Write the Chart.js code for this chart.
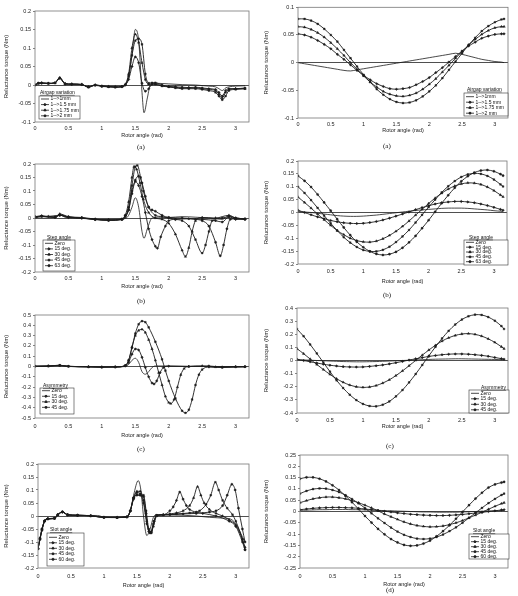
<!DOCTYPE html>
<html><head><meta charset="utf-8">
<script src="https://cdn.jsdelivr.net/npm/chart.js@4.4.1/dist/chart.umd.min.js"></script>
<style>
html,body{margin:0;padding:0;background:#fff;width:518px;height:596px;overflow:hidden;position:relative;}
canvas{position:absolute;}
.cap{position:absolute;font-family:"Liberation Serif","DejaVu Serif",serif;font-size:7px;color:#111;line-height:8px;will-change:transform;}
</style></head><body>
<canvas id="cL1"></canvas><canvas id="cR1"></canvas>
<canvas id="cL2"></canvas><canvas id="cR2"></canvas>
<canvas id="cL3"></canvas><canvas id="cR3"></canvas>
<canvas id="cL4"></canvas><canvas id="cR4"></canvas>
<div class="cap" style="left:137px;top:143px">(a)</div>
<div class="cap" style="left:383px;top:142px">(a)</div>
<div class="cap" style="left:137px;top:297px">(b)</div>
<div class="cap" style="left:383px;top:291px">(b)</div>
<div class="cap" style="left:137px;top:445px">(c)</div>
<div class="cap" style="left:386px;top:442px">(c)</div>
<div class="cap" style="left:386px;top:586px">(d)</div>
<script>
// ---------- shared text / ticks ----------
const X_TITLE = 'Rotor angle (rad)';
const Y_TITLE = 'Reluctance torque (Nm)';
const X_TICKS = [0,0.5,1,1.5,2,2.5,3];
const LBL_AIR = ['1-->1mm','1-->1.5 mm','1-->1.75 mm','1-->2 mm'];
const LBL_STEP = ['Zero','15 deg.','30 deg.','45 deg.','63 deg.'];
const LBL_ASYM = ['Zero','15 deg.','30 deg.','45 deg.'];
const LBL_SLOT = ['Zero','15 deg.','30 deg.','45 deg.','60 deg.'];
const YT_01 = [-0.1,-0.05,0,0.05,0.1];
const YT_L1 = [-0.1,-0.05,0,0.05,0.1,0.15,0.2];
const YT_02 = [-0.2,-0.15,-0.1,-0.05,0,0.05,0.1,0.15,0.2];
const YT_05 = [-0.5,-0.4,-0.3,-0.2,-0.1,0,0.1,0.2,0.3,0.4,0.5];
const YT_04 = [-0.4,-0.3,-0.2,-0.1,0,0.1,0.2,0.3,0.4];
const YT_025 = [-0.25,-0.2,-0.15,-0.1,-0.05,0,0.05,0.1,0.15,0.2,0.25];

// ---------- right-hand charts: common angle grid ----------
const RX = [0,0.1,0.2,0.3,0.4,0.5,0.6,0.7,0.8,0.9,1,1.1,1.2,1.3,1.4,1.5,1.6,1.7,1.8,1.9,2,2.1,2.2,2.3,2.4,2.5,2.6,2.7,2.8,2.9,3,3.1,3.14];

const R1_1MM = [0,-0.002,-0.004,-0.006,-0.008,-0.010,-0.012,-0.014,-0.015,-0.013,-0.011,-0.009,-0.007,-0.005,-0.003,-0.001,0.001,0.003,0.005,0.007,0.009,0.011,0.013,0.015,0.017,0.015,0.012,0.009,0.006,0.004,0.002,0.001,0];
const R1_15MM = [0.052,0.050,0.046,0.040,0.033,0.025,0.015,0.006,-0.004,-0.014,-0.023,-0.031,-0.038,-0.043,-0.047,-0.048,-0.047,-0.045,-0.040,-0.034,-0.027,-0.018,-0.009,0.001,0.011,0.021,0.030,0.037,0.044,0.048,0.051,0.052,0.052];
const R1_175MM = [0.065,0.064,0.060,0.054,0.046,0.036,0.025,0.013,0.000,-0.012,-0.024,-0.035,-0.044,-0.052,-0.057,-0.060,-0.061,-0.059,-0.055,-0.048,-0.039,-0.029,-0.017,-0.005,0.008,0.020,0.032,0.042,0.051,0.058,0.063,0.065,0.065];
const R1_2MM = [0.079,0.079,0.076,0.070,0.061,0.050,0.038,0.023,0.008,-0.007,-0.022,-0.035,-0.048,-0.058,-0.066,-0.071,-0.073,-0.072,-0.068,-0.061,-0.052,-0.041,-0.028,-0.013,0.002,0.017,0.032,0.045,0.057,0.066,0.073,0.078,0.079];

const R2_ZERO = [0.004,0.002,0,-0.003,-0.006,-0.009,-0.012,-0.014,-0.015,-0.015,-0.014,-0.012,-0.010,-0.007,-0.004,-0.001,0.002,0.005,0.008,0.010,0.012,0.014,0.016,0.017,0.017,0.017,0.016,0.014,0.012,0.010,0.007,0.005,0.004];
const R2_15 = [0.009,0,-0.009,-0.017,-0.024,-0.031,-0.036,-0.040,-0.042,-0.043,-0.042,-0.039,-0.035,-0.029,-0.022,-0.014,-0.006,0.002,0.011,0.019,0.026,0.033,0.038,0.041,0.043,0.043,0.041,0.038,0.033,0.027,0.020,0.012,0.009];
const R2_30 = [0.060,0.039,0.017,-0.006,-0.028,-0.050,-0.070,-0.086,-0.100,-0.109,-0.114,-0.115,-0.111,-0.102,-0.089,-0.073,-0.054,-0.033,-0.010,0.012,0.035,0.056,0.075,0.091,0.103,0.111,0.115,0.114,0.109,0.099,0.085,0.068,0.061];
const R2_45 = [0.100,0.076,0.048,0.018,-0.012,-0.042,-0.070,-0.096,-0.117,-0.134,-0.146,-0.151,-0.151,-0.145,-0.133,-0.115,-0.093,-0.068,-0.039,-0.009,0.021,0.050,0.078,0.102,0.122,0.138,0.148,0.152,0.150,0.142,0.128,0.109,0.101];
const R2_63 = [0.142,0.123,0.099,0.070,0.039,0.007,-0.026,-0.058,-0.088,-0.114,-0.135,-0.151,-0.161,-0.165,-0.162,-0.153,-0.137,-0.116,-0.091,-0.061,-0.030,0.003,0.036,0.067,0.096,0.121,0.141,0.155,0.163,0.165,0.160,0.149,0.143];

const R3_ZERO = [0.005,0.004,0.002,0,-0.002,-0.004,-0.006,-0.008,-0.009,-0.010,-0.010,-0.009,-0.008,-0.006,-0.004,-0.002,0,0.002,0.004,0.006,0.008,0.010,0.011,0.012,0.013,0.013,0.012,0.011,0.010,0.009,0.008,0.006,0.005];
const R3_15 = [0.010,0,-0.010,-0.019,-0.028,-0.036,-0.042,-0.047,-0.049,-0.050,-0.049,-0.045,-0.040,-0.034,-0.026,-0.017,-0.007,0.003,0.013,0.022,0.031,0.038,0.044,0.048,0.050,0.050,0.048,0.044,0.039,0.032,0.023,0.014,0.010];
const R3_30 = [0.090,0.052,0.011,-0.030,-0.069,-0.106,-0.139,-0.166,-0.187,-0.200,-0.205,-0.202,-0.191,-0.172,-0.147,-0.115,-0.079,-0.040,0.001,0.041,0.080,0.116,0.148,0.173,0.191,0.202,0.205,0.199,0.186,0.165,0.138,0.105,0.090];
const R3_45 = [0.240,0.185,0.122,0.054,-0.015,-0.085,-0.151,-0.210,-0.261,-0.302,-0.331,-0.347,-0.349,-0.337,-0.312,-0.273,-0.225,-0.167,-0.103,-0.034,0.036,0.104,0.168,0.226,0.274,0.312,0.337,0.349,0.347,0.331,0.303,0.262,0.240];

const R4_ZERO = [0.005,0.006,0.007,0.008,0.008,0.009,0.009,0.009,0.008,0.008,0.007,0.006,0.005,0.004,0.003,0.002,0.001,0,-0.001,-0.002,-0.002,-0.003,-0.003,-0.003,-0.003,-0.002,-0.001,0,0.001,0.002,0.003,0.004,0.005];
const R4_15 = [0.008,0.011,0.014,0.016,0.017,0.018,0.018,0.017,0.016,0.014,0.011,0.008,0.005,0.001,-0.002,-0.006,-0.009,-0.012,-0.014,-0.016,-0.017,-0.018,-0.018,-0.017,-0.015,-0.013,-0.010,-0.007,-0.004,0.000,0.003,0.007,0.008];
const R4_30 = [0.039,0.048,0.056,0.061,0.064,0.064,0.061,0.056,0.048,0.039,0.028,0.016,0.003,-0.011,-0.023,-0.035,-0.046,-0.055,-0.062,-0.066,-0.068,-0.067,-0.064,-0.058,-0.050,-0.040,-0.028,-0.016,-0.003,0.010,0.023,0.035,0.039];
const R4_45 = [0.079,0.091,0.099,0.102,0.101,0.095,0.086,0.072,0.055,0.036,0.015,-0.008,-0.030,-0.051,-0.071,-0.089,-0.103,-0.113,-0.120,-0.122,-0.120,-0.113,-0.102,-0.087,-0.070,-0.050,-0.028,-0.006,0.016,0.037,0.056,0.073,0.079];
const R4_60 = [0.145,0.151,0.151,0.145,0.133,0.116,0.095,0.069,0.041,0.011,-0.020,-0.049,-0.077,-0.101,-0.122,-0.137,-0.148,-0.152,-0.150,-0.142,-0.129,-0.110,-0.087,-0.061,-0.032,-0.002,0.028,0.057,0.083,0.106,0.120,0.128,0.131];

// ---------- left-hand charts: [angle, torque] pairs ----------
const L1_1MM = [[0,0],[0.05,0.005],[0.1,0.005],[0.2,0.004],[0.3,0.006],[0.37,0.02],[0.45,0.003],[0.55,0.002],[0.7,0.001],[0.8,-0.005],[0.9,0],[1.0,-0.002],[1.1,-0.004],[1.2,-0.005],[1.3,-0.004],[1.35,0],[1.4,0.02],[1.45,0.08],[1.5,0.15],[1.55,0.12],[1.6,-0.02],[1.63,-0.075],[1.68,-0.035],[1.73,0.003],[1.8,0.005],[1.9,0.004],[2.0,0.003],[2.2,0.001],[2.4,0],[2.6,-0.003],[2.7,-0.005],[2.75,-0.01],[2.8,-0.015],[2.85,-0.008],[2.9,-0.005],[3.0,-0.003],[3.14,-0.002]];
const L1_15MM = [[0,0],[0.05,0.005],[0.1,0.005],[0.2,0.004],[0.3,0.006],[0.37,0.018],[0.45,0.003],[0.55,0.002],[0.7,0.001],[0.8,-0.005],[0.9,0],[1.0,-0.003],[1.1,-0.004],[1.2,-0.005],[1.3,-0.004],[1.35,0],[1.4,0.015],[1.45,0.05],[1.5,0.076],[1.55,0.06],[1.6,0.005],[1.65,-0.017],[1.7,-0.01],[1.75,0.002],[1.8,0.003],[1.9,-0.002],[2.0,-0.004],[2.1,-0.005],[2.2,-0.006],[2.3,-0.007],[2.4,-0.006],[2.5,-0.008],[2.6,-0.01],[2.7,-0.012],[2.75,-0.02],[2.8,-0.03],[2.85,-0.015],[2.9,-0.01],[3.0,-0.01],[3.14,-0.008]];
const L1_175MM = [[0,0],[0.05,0.004],[0.1,0.006],[0.2,0.004],[0.3,0.005],[0.37,0.02],[0.45,0.004],[0.55,0.003],[0.7,0.002],[0.8,-0.006],[0.9,0],[1.0,-0.003],[1.1,-0.005],[1.2,-0.006],[1.3,-0.004],[1.35,0.002],[1.4,0.03],[1.45,0.1],[1.5,0.137],[1.55,0.115],[1.6,0.06],[1.65,0.015],[1.7,0.002],[1.75,0.003],[1.8,0.002],[1.9,-0.003],[2.0,-0.005],[2.1,-0.006],[2.2,-0.008],[2.3,-0.008],[2.4,-0.008],[2.5,-0.01],[2.6,-0.012],[2.7,-0.015],[2.75,-0.025],[2.8,-0.035],[2.85,-0.02],[2.9,-0.012],[3.0,-0.01],[3.14,-0.01]];
const L1_2MM = [[0,0],[0.05,0.005],[0.1,0.005],[0.2,0.005],[0.3,0.006],[0.37,0.019],[0.45,0.003],[0.55,0.002],[0.7,0.001],[0.8,-0.006],[0.9,-0.001],[1.0,-0.004],[1.1,-0.005],[1.2,-0.006],[1.3,-0.005],[1.35,0],[1.4,0.025],[1.45,0.08],[1.5,0.12],[1.55,0.125],[1.6,0.11],[1.65,0.03],[1.7,0.005],[1.75,0.006],[1.8,0.006],[1.9,0],[2.0,-0.005],[2.1,-0.008],[2.2,-0.01],[2.3,-0.01],[2.4,-0.01],[2.5,-0.012],[2.6,-0.015],[2.7,-0.02],[2.75,-0.03],[2.8,-0.04],[2.85,-0.03],[2.9,-0.015],[3.0,-0.012],[3.14,-0.01]];

const L2_ZERO = [[0,0],[0.1,0.005],[0.2,0.003],[0.3,0.002],[0.37,0.012],[0.45,0.003],[0.6,0],[0.8,-0.003],[1.0,-0.006],[1.2,-0.005],[1.35,-0.002],[1.4,0.01],[1.45,0.04],[1.5,0.075],[1.55,0.04],[1.6,-0.05],[1.63,-0.075],[1.68,-0.04],[1.75,0],[1.85,0.003],[2.0,0.002],[2.2,0.005],[2.4,0.003],[2.6,0],[2.8,-0.005],[2.9,0.008],[3.0,0],[3.14,-0.003]];
const L2_15 = [[0,0.005],[0.1,0.008],[0.2,0.006],[0.37,0.01],[0.5,0.002],[0.7,0],[0.9,-0.005],[1.1,-0.008],[1.3,-0.005],[1.4,0.03],[1.45,0.1],[1.5,0.135],[1.55,0.12],[1.6,0.08],[1.65,0.02],[1.7,-0.04],[1.75,-0.08],[1.8,-0.105],[1.83,-0.112],[1.88,-0.07],[1.95,-0.03],[2.0,-0.01],[2.1,-0.005],[2.3,-0.003],[2.5,-0.005],[2.7,-0.01],[2.8,-0.015],[2.9,0.005],[3.0,-0.005],[3.14,-0.005]];
const L2_30 = [[0,0.003],[0.1,0.006],[0.3,0.004],[0.37,0.015],[0.5,0.005],[0.7,0.002],[0.9,-0.004],[1.1,-0.008],[1.3,-0.004],[1.35,0.01],[1.4,0.06],[1.45,0.15],[1.48,0.19],[1.52,0.18],[1.57,0.13],[1.62,0.07],[1.7,0.02],[1.8,0],[1.9,-0.005],[2.0,-0.02],[2.1,-0.06],[2.2,-0.12],[2.25,-0.143],[2.3,-0.11],[2.35,-0.05],[2.4,-0.01],[2.5,0.002],[2.7,0],[2.9,0.01],[3.0,0],[3.14,-0.003]];
const L2_45 = [[0,0.002],[0.1,0.006],[0.3,0.003],[0.37,0.012],[0.5,0.004],[0.7,0],[0.9,-0.006],[1.1,-0.009],[1.3,-0.006],[1.35,0.005],[1.4,0.04],[1.45,0.12],[1.5,0.19],[1.53,0.195],[1.58,0.15],[1.62,0.1],[1.7,0.04],[1.8,0.01],[1.9,0.005],[2.0,0],[2.1,-0.005],[2.2,-0.01],[2.3,-0.03],[2.4,-0.08],[2.5,-0.13],[2.55,-0.1],[2.6,-0.05],[2.65,-0.01],[2.8,0],[2.9,0.005],[3.0,0],[3.14,-0.003]];
const L2_63 = [[0,0.004],[0.1,0.007],[0.3,0.002],[0.37,0.01],[0.5,0.003],[0.7,0],[0.9,-0.005],[1.1,-0.007],[1.3,-0.004],[1.35,0.01],[1.4,0.03],[1.45,0.09],[1.5,0.14],[1.55,0.155],[1.6,0.13],[1.65,0.08],[1.7,0.04],[1.75,0.03],[1.8,0.025],[1.9,0.01],[2.0,0.002],[2.2,0],[2.4,-0.005],[2.5,-0.01],[2.6,-0.03],[2.7,-0.09],[2.77,-0.14],[2.82,-0.1],[2.87,-0.04],[2.92,-0.005],[3.0,-0.003],[3.14,-0.005]];

const L3_ZERO = [[0,0],[0.2,0.003],[0.37,0.01],[0.5,0],[0.8,-0.003],[1.0,-0.005],[1.2,-0.004],[1.35,0],[1.4,0.02],[1.45,0.06],[1.5,0.08],[1.55,0.04],[1.6,-0.05],[1.65,-0.075],[1.7,-0.05],[1.75,-0.01],[1.8,0.005],[2.0,0.005],[2.3,0.002],[2.6,0],[2.8,-0.005],[3.14,-0.003]];
const L3_15 = [[0,0.003],[0.2,0.005],[0.37,0.012],[0.5,0.002],[0.8,-0.002],[1.0,-0.006],[1.2,-0.004],[1.35,0.005],[1.4,0.04],[1.45,0.12],[1.5,0.17],[1.55,0.16],[1.6,0.09],[1.65,-0.01],[1.7,-0.1],[1.75,-0.16],[1.78,-0.17],[1.82,-0.14],[1.87,-0.06],[1.92,-0.01],[2.0,0.003],[2.3,0],[2.6,0.005],[2.8,-0.005],[3.14,-0.002]];
const L3_30 = [[0,0.002],[0.2,0.004],[0.37,0.01],[0.5,0.001],[0.8,-0.004],[1.0,-0.007],[1.2,-0.005],[1.35,0.01],[1.4,0.06],[1.45,0.19],[1.5,0.3],[1.55,0.35],[1.6,0.36],[1.65,0.33],[1.7,0.26],[1.75,0.17],[1.8,0.06],[1.85,-0.06],[1.9,-0.18],[1.95,-0.29],[2.0,-0.35],[2.03,-0.36],[2.08,-0.32],[2.13,-0.2],[2.18,-0.08],[2.23,-0.02],[2.3,0],[2.5,0.005],[2.7,-0.005],[3.0,0],[3.14,0]];
const L3_45 = [[0,0.003],[0.2,0.005],[0.37,0.012],[0.5,0.002],[0.8,-0.003],[1.0,-0.006],[1.2,-0.005],[1.35,0.01],[1.4,0.06],[1.45,0.18],[1.5,0.32],[1.55,0.41],[1.6,0.44],[1.65,0.43],[1.7,0.38],[1.8,0.24],[1.9,0.07],[1.95,-0.04],[2.0,-0.14],[2.1,-0.31],[2.2,-0.43],[2.25,-0.45],[2.3,-0.42],[2.35,-0.32],[2.4,-0.18],[2.45,-0.08],[2.5,-0.03],[2.6,-0.005],[2.8,-0.01],[3.0,-0.005],[3.14,-0.003]];

const L4_ZERO = [[0,-0.125],[0.03,-0.09],[0.06,-0.055],[0.1,-0.02],[0.15,-0.012],[0.2,-0.01],[0.25,-0.01],[0.3,0.005],[0.37,0.016],[0.45,0.005],[0.55,0.003],[0.7,0.002],[0.9,0.002],[1.0,-0.004],[1.2,-0.005],[1.35,-0.003],[1.4,0.02],[1.45,0.08],[1.52,0.136],[1.56,0.1],[1.6,0],[1.65,-0.075],[1.7,-0.05],[1.75,-0.005],[1.8,0.005],[2.0,0.004],[2.2,0.003],[2.4,0],[2.6,-0.005],[2.8,-0.008],[2.9,-0.01],[3.0,-0.03],[3.1,-0.08],[3.14,-0.1]];
const L4_15 = [[0,-0.125],[0.03,-0.085],[0.06,-0.05],[0.1,-0.018],[0.15,-0.01],[0.25,-0.008],[0.3,0.004],[0.37,0.015],[0.45,0.004],[0.6,0.003],[0.8,0.001],[1.0,-0.005],[1.2,-0.006],[1.35,-0.004],[1.4,0.02],[1.45,0.07],[1.5,0.08],[1.55,0.08],[1.6,0.075],[1.64,0.01],[1.68,-0.06],[1.72,-0.065],[1.76,-0.02],[1.8,0.003],[1.9,0.005],[2.0,0.02],[2.05,0.035],[2.1,0.06],[2.15,0.092],[2.2,0.065],[2.25,0.04],[2.3,0.025],[2.4,0.015],[2.5,0.01],[2.7,0],[2.9,-0.02],[3.0,-0.04],[3.1,-0.1],[3.14,-0.13]];
const L4_30 = [[0,-0.125],[0.03,-0.088],[0.06,-0.052],[0.1,-0.02],[0.15,-0.01],[0.25,-0.009],[0.3,0.005],[0.37,0.016],[0.45,0.005],[0.6,0.003],[0.8,0],[1.0,-0.005],[1.2,-0.006],[1.35,-0.003],[1.4,0.02],[1.45,0.07],[1.5,0.095],[1.55,0.095],[1.6,0.06],[1.65,-0.02],[1.7,-0.065],[1.75,-0.04],[1.8,0],[1.9,0.005],[2.0,0.008],[2.1,0.012],[2.2,0.02],[2.3,0.04],[2.36,0.07],[2.42,0.113],[2.47,0.08],[2.52,0.05],[2.6,0.025],[2.7,0.01],[2.8,0],[2.9,-0.015],[3.0,-0.035],[3.1,-0.09],[3.14,-0.12]];
const L4_45 = [[0,-0.127],[0.03,-0.09],[0.06,-0.055],[0.1,-0.02],[0.15,-0.012],[0.25,-0.01],[0.3,0.004],[0.37,0.015],[0.45,0.004],[0.6,0.002],[0.8,0.001],[1.0,-0.006],[1.2,-0.006],[1.35,-0.004],[1.4,0.02],[1.45,0.065],[1.5,0.082],[1.55,0.08],[1.6,0.08],[1.64,0.02],[1.68,-0.05],[1.72,-0.06],[1.76,-0.02],[1.8,0.002],[1.9,0.004],[2.1,0.008],[2.3,0.012],[2.45,0.02],[2.55,0.045],[2.62,0.08],[2.69,0.13],[2.74,0.1],[2.8,0.06],[2.87,0.03],[2.95,0.005],[3.0,-0.02],[3.1,-0.09],[3.14,-0.13]];
const L4_60 = [[0,-0.125],[0.03,-0.087],[0.06,-0.05],[0.1,-0.019],[0.15,-0.011],[0.25,-0.009],[0.3,0.005],[0.37,0.016],[0.45,0.005],[0.6,0.003],[0.8,0.001],[1.0,-0.005],[1.2,-0.005],[1.35,-0.003],[1.4,0.02],[1.45,0.07],[1.5,0.09],[1.55,0.085],[1.6,0.05],[1.65,-0.03],[1.7,-0.065],[1.75,-0.03],[1.8,0.002],[2.0,0.005],[2.2,0.008],[2.4,0.01],[2.6,0.015],[2.7,0.02],[2.8,0.04],[2.87,0.08],[2.94,0.122],[2.99,0.1],[3.04,0.03],[3.1,-0.05],[3.14,-0.1]];

// ---------- rendering ----------
const FONT = "'Liberation Sans', Arial, sans-serif";
const INK = '#1c1c1c';
const MARKS = [
  {style:false, r:0},
  {style:'rectRot', r:1.3},
  {style:'triangle', r:1.4},
  {style:'rect', r:1.2},
  {style:'circle', r:1.1}
];
const grid2pts = (ys) => ys.map((y,i)=>({x:RX[i], y}));
const pair2pts = (a) => a.map(p=>({x:p[0], y:p[1]}));

const frame = {
  id:'frame',
  afterDatasetsDraw(chart){
    const a = chart.chartArea, c = chart.ctx;
    c.save(); c.strokeStyle='#777'; c.lineWidth=0.8;
    c.strokeRect(a.left, a.top, a.right-a.left, a.bottom-a.top);
    c.restore();
  }
};
const boxLegend = {
  id:'boxLegend',
  afterDraw(chart, args, o){
    const L = o.legend, b = o.box, ctx = chart.ctx;
    if (!L) return;
    const x = L.x - b.x, y = L.y - b.y;
    ctx.save();
    ctx.fillStyle='#fff'; ctx.fillRect(x, y, L.w, L.h);
    ctx.strokeStyle='#333'; ctx.lineWidth=0.6; ctx.strokeRect(x, y, L.w, L.h);
    ctx.font = '5px ' + FONT; ctx.fillStyle='#111'; ctx.textBaseline='middle'; ctx.textAlign='left';
    const tx = L.tx - b.x, ty = L.ty - b.y;
    ctx.fillText(L.title, tx, ty);
    const tw = ctx.measureText(L.title).width;
    ctx.beginPath(); ctx.moveTo(tx, ty+2.6); ctx.lineTo(tx+tw, ty+2.6); ctx.lineWidth=0.5; ctx.strokeStyle='#111'; ctx.stroke();
    chart.data.datasets.forEach((ds,i)=>{
      const ry = y + L.r0 + i*L.rh;
      ctx.beginPath(); ctx.moveTo(x+2, ry); ctx.lineTo(x+10, ry);
      ctx.strokeStyle=INK; ctx.lineWidth=0.8; ctx.stroke();
      if (ds.pointStyle) {
        ctx.fillStyle=INK;
        Chart.helpers.drawPoint(ctx, {pointStyle: ds.pointStyle, radius: ds.pointRadius, borderWidth: 0.4, rotation:0}, x+6, ry);
      }
      ctx.fillStyle='#111';
      ctx.fillText(ds.label, x+11.5, ry);
    });
    ctx.restore();
  }
};

function makeChart(c){
  const cv = document.getElementById(c.id);
  const b = c.box, p = c.plot;
  cv.width = b.w; cv.height = b.h;
  cv.style.left = b.x+'px'; cv.style.top = b.y+'px';
  cv.style.width = b.w+'px'; cv.style.height = b.h+'px';
  const Wy = p.L - b.x, Hx = b.y + b.h - p.B;
  const datasets = c.series.map((s,i)=>({
    label: c.labels[i], data: s,
    borderColor: INK, backgroundColor: INK, borderWidth: i===0 ? 0.8 : 0.9,
    pointStyle: MARKS[i].style, pointRadius: MARKS[i].r, pointHoverRadius: 0,
    pointBackgroundColor: INK, pointBorderColor: INK, pointBorderWidth: 0.4,
    tension: c.tension, cubicInterpolationMode: c.mono ? 'monotone' : 'default', fill:false
  }));
  new Chart(cv, {
    type:'line',
    data:{datasets},
    options:{
      responsive:false, animation:false, devicePixelRatio:1, events:[],
      layout:{padding:{left:0, top:p.T-b.y, right:b.x+b.w-p.R, bottom:0}},
      plugins:{legend:{display:false}, tooltip:{enabled:false}, boxLegend:{legend:c.legend, box:b}},
      scales:{
        x:{type:'linear', min:0, max:3.2,
          afterBuildTicks:s=>{ s.ticks = X_TICKS.map(v=>({value:v})); },
          afterFit:s=>{ s.height = Hx; },
          grid:{display:false, drawTicks:false, tickLength:0}, border:{display:false},
          ticks:{font:{family:FONT,size:5.5}, color:'#222', padding:c.xpad, maxRotation:0, autoSkip:false, callback:v=>String(v)},
          title:{display:true, text:X_TITLE, font:{family:FONT,size:5.5}, color:'#222', padding:0}
        },
        y:{type:'linear', min:c.yMin, max:c.yMax,
          afterBuildTicks:s=>{ s.ticks = c.yTicks.map(v=>({value:v})); },
          afterFit:s=>{ s.width = Wy; },
          grid:{color:ctx=>(ctx.tick && Math.abs(ctx.tick.value)<1e-9) ? '#222' : 'rgba(0,0,0,0)', lineWidth:0.8, drawTicks:true, tickLength:2, tickColor:'#666'},
          border:{display:false},
          ticks:{font:{family:FONT,size:5.5}, color:'#222', padding:2, autoSkip:false, callback:v=>String(+(+v).toFixed(2))},
          title:{display:true, text:Y_TITLE, font:{family:FONT,size:6}, color:'#222', padding:0}
        }
      }
    },
    plugins:[frame, boxLegend]
  });
}

makeChart({id:'cL1', box:{x:3,y:5,w:250,h:134}, plot:{L:35,R:249,T:11,B:122}, yMin:-0.1, yMax:0.2, yTicks:YT_L1, xpad:3,
  series:[L1_1MM,L1_15MM,L1_175MM,L1_2MM].map(pair2pts), labels:LBL_AIR, tension:0, mono:true,
  legend:{x:39,y:96,w:41,h:23,tx:40,ty:92.7,r0:3,rh:5.6,title:'Airgap variation'}});
makeChart({id:'cR1', box:{x:263,y:2,w:249,h:132}, plot:{L:298,R:508,T:7,B:118}, yMin:-0.1, yMax:0.1, yTicks:YT_01, xpad:3.5,
  series:[R1_1MM,R1_15MM,R1_175MM,R1_2MM].map(grid2pts), labels:LBL_AIR, tension:0.3, mono:false,
  legend:{x:464,y:93,w:44,h:23,tx:467,ty:89.3,r0:3.7,rh:5.5,title:'Airgap variation'}});
makeChart({id:'cL2', box:{x:3,y:158,w:250,h:132}, plot:{L:35,R:249,T:164,B:272}, yMin:-0.2, yMax:0.2, yTicks:YT_02, xpad:3,
  series:[L2_ZERO,L2_15,L2_30,L2_45,L2_63].map(pair2pts), labels:LBL_STEP, tension:0, mono:true,
  legend:{x:43,y:240,w:32,h:31,tx:47,ty:237.3,r0:3.3,rh:5.6,title:'Step angle'}});
makeChart({id:'cR2', box:{x:263,y:155,w:248,h:130}, plot:{L:298,R:507,T:161,B:264}, yMin:-0.2, yMax:0.2, yTicks:YT_02, xpad:4.5,
  series:[R2_ZERO,R2_15,R2_30,R2_45,R2_63].map(grid2pts), labels:LBL_STEP, tension:0.3, mono:false,
  legend:{x:464,y:240,w:44,h:25,tx:469,ty:237.3,r0:2.3,rh:4.85,title:'Step angle'}});
makeChart({id:'cL3', box:{x:3,y:309,w:250,h:130}, plot:{L:35,R:249,T:315,B:418}, yMin:-0.5, yMax:0.5, yTicks:YT_05, xpad:5,
  series:[L3_ZERO,L3_15,L3_30,L3_45].map(pair2pts), labels:LBL_ASYM, tension:0, mono:true,
  legend:{x:40,y:388,w:34,h:26,tx:43,ty:386,r0:2.7,rh:5.55,title:'Asymmetry'}});
makeChart({id:'cR3', box:{x:263,y:302,w:249,h:128}, plot:{L:297,R:508,T:308,B:413}, yMin:-0.4, yMax:0.4, yTicks:YT_04, xpad:4.5,
  series:[R3_ZERO,R3_15,R3_30,R3_45].map(grid2pts), labels:LBL_ASYM, tension:0.3, mono:false,
  legend:{x:469,y:390,w:40,h:23,tx:481,ty:387.7,r0:3.3,rh:5.5,title:'Asymmetry'}});
makeChart({id:'cL4', box:{x:3,y:458,w:250,h:131}, plot:{L:38,R:249,T:464,B:568}, yMin:-0.2, yMax:0.2, yTicks:YT_02, xpad:5,
  series:[L4_ZERO,L4_15,L4_30,L4_45,L4_60].map(pair2pts), labels:LBL_SLOT, tension:0, mono:true,
  legend:{x:47,y:533,w:37,h:33,tx:50,ty:530,r0:4.3,rh:5.5,title:'Slot angle'}});
makeChart({id:'cR4', box:{x:263,y:449,w:249,h:139}, plot:{L:300,R:508,T:455,B:568}, yMin:-0.25, yMax:0.25, yTicks:YT_025, xpad:5,
  series:[R4_ZERO,R4_15,R4_30,R4_45,R4_60].map(grid2pts), labels:LBL_SLOT, tension:0.3, mono:false,
  legend:{x:469,y:534,w:40,h:25,tx:473,ty:531,r0:2.7,rh:5,title:'Slot angle'}});
</script>
</body></html>
